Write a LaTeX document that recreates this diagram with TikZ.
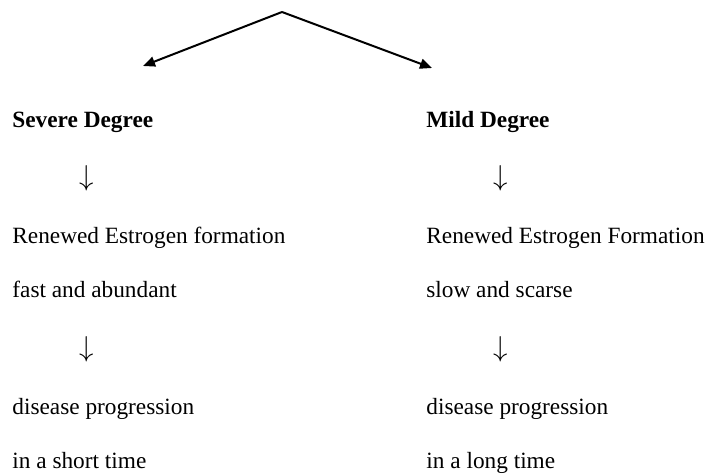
\documentclass[tikz,border=0pt]{standalone}
\usepackage{fontspec}
\setmainfont{Liberation Serif}
\usetikzlibrary{positioning,arrows.meta}
\tikzset{>={Triangle[width=5pt,length=6pt]}}
\tikzset{txt/.style={anchor=base west,inner sep=0pt,font=\fontsize{11.65}{14}\selectfont},
	dn/.style={inner sep=0pt,font=\fontsize{14}{16}\selectfont}}

\begin{document}
\begin{tikzpicture}[x=0.5pt,y=-0.5pt]
		\useasboundingbox (0,0) rectangle (705,474);
		\coordinate(T) at (282,12);
		\coordinate(TL) at (143,66);
		\coordinate(TR) at (432,68);
		
		\node[txt](L1) at (12,127.5)	{\textbf{Severe Degree}};
		\node[dn](L2) at (87,178.5)		{$\downarrow$};
		\node[txt](L3) at (12,244)		{Renewed Estrogen formation};
		\node[txt](L4) at (12,298)		{fast and abundant};
		\node[dn](L5) at (87,349)		{$\downarrow$};
		\node[txt](L6) at (12,415)		{disease progression};
		\node[txt](L7) at (12,468)		{in a short time};
		
		\node[txt](R1) at (426,127.5)	{\textbf{Mild Degree}};
		\node[dn](R2) at (501,178.5)	{$\downarrow$};
		\node[txt](R3) at (426,244)		{Renewed Estrogen Formation};
		\node[txt](R4) at (426,298)		{slow and scarse};
		\node[dn](R5) at (501,349)		{$\downarrow$};
		\node[txt](R6) at (426,415)		{disease progression};
		\node[txt](R7) at (426,468)		{in a long time};
		
		\draw[->,line width=1pt](T) -- (TL);
		\draw[->,line width=1pt](T) -- (TR);
	\end{tikzpicture}
\end{document}
